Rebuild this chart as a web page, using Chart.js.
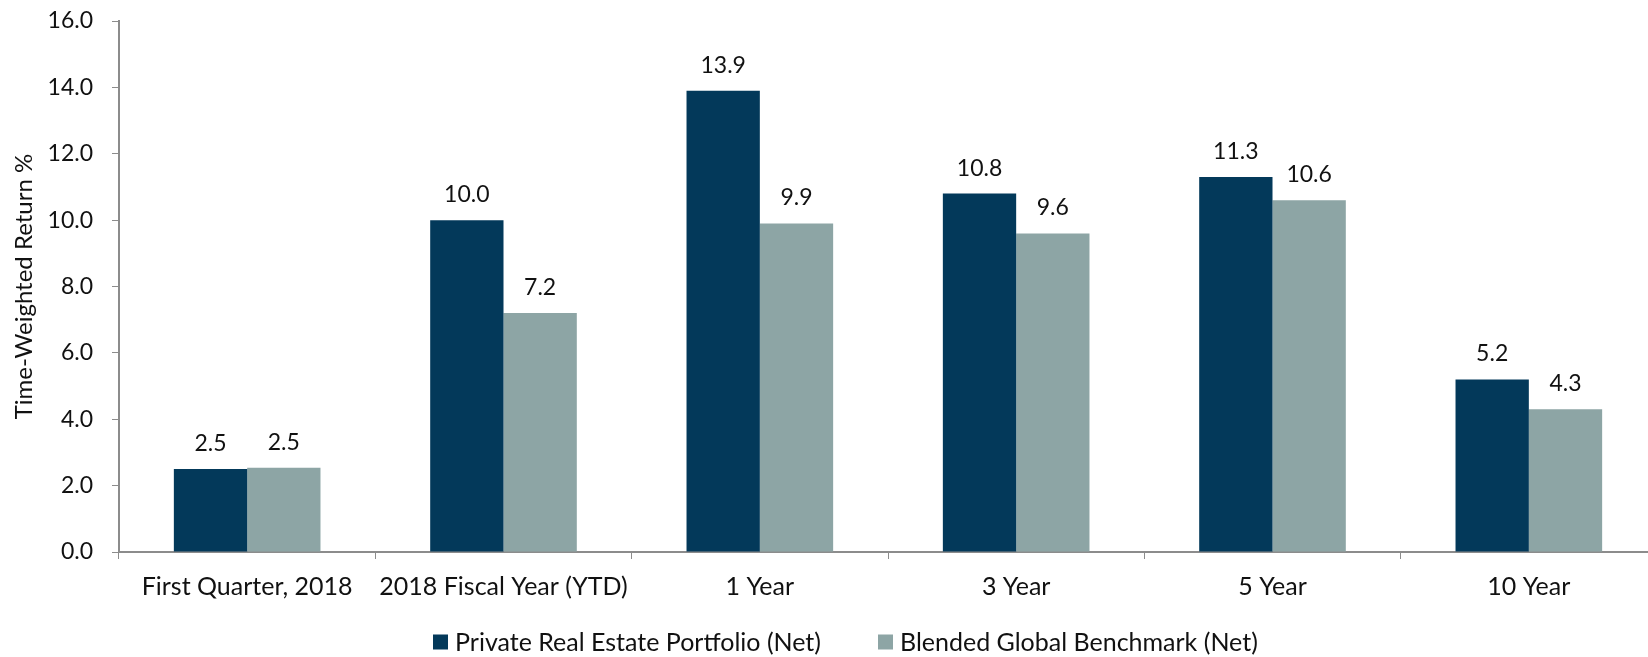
<!DOCTYPE html>
<html lang="en">
<head>
    <meta charset="UTF-8">
    <title>Time-Weighted Return</title>
    <script src="https://cdn.jsdelivr.net/npm/chart.js"></script>
    <style>
        html, body { margin: 0; padding: 0; background: #fff; overflow: hidden; }
        #wrap { width: 1660px; height: 657px; }
    </style>
</head>
<body>
    <div id="wrap"><canvas id="myChart"></canvas></div>

    <script>
        // chart data
        var categories = ['First Quarter, 2018', '2018 Fiscal Year (YTD)', '1 Year', '3 Year', '5 Year', '10 Year'];
        var portfolioNet = [2.5, 10.0, 13.9, 10.8, 11.3, 5.2];
        var benchmarkNet = [2.54, 7.2, 9.9, 9.6, 10.6, 4.3];
        var seriesNames = ['Private Real Estate Portfolio (Net)', 'Blended Global Benchmark (Net)'];
        var seriesColors = ['#03395a', '#8da5a5'];
        var yTicks = [0, 2, 4, 6, 8, 10, 12, 14, 16];
        var yTitle = 'Time-Weighted Return %';

        var fontFamily = 'Lato, "Open Sans", sans-serif';
        var axisGray = '#8c8c8c';
        var textColor = '#111';

        // writes the value above each bar
        var valueLabels = {
            id: 'valueLabels',
            afterDatasetsDraw: function(chart) {
                var ctx = chart.ctx;
                ctx.save();
                ctx.font = '23px ' + fontFamily;
                ctx.fillStyle = textColor;
                ctx.textAlign = 'center';
                ctx.textBaseline = 'alphabetic';
                chart.data.datasets.forEach(function(ds, i) {
                    chart.getDatasetMeta(i).data.forEach(function(bar, j) {
                        ctx.fillText(ds.data[j].toFixed(1), bar.x, bar.y - 18);
                    });
                });
                ctx.restore();
            }
        };

        // rotated y axis title, centred on the plot
        var yAxisTitle = {
            id: 'yAxisTitle',
            afterDraw: function(chart) {
                var ctx = chart.ctx;
                var area = chart.chartArea;
                ctx.save();
                ctx.translate(24, (area.top + area.bottom) / 2);
                ctx.rotate(-Math.PI / 2);
                ctx.font = '24px ' + fontFamily;
                ctx.fillStyle = textColor;
                ctx.textAlign = 'center';
                ctx.textBaseline = 'middle';
                ctx.fillText(yTitle, 0, 0);
                ctx.restore();
            }
        };

        // legend under the axis labels (built-in one can't do the wide item gap)
        var legendBoxX = [433, 878];
        var bottomLegend = {
            id: 'bottomLegend',
            afterDraw: function(chart) {
                var ctx = chart.ctx;
                var box = 15, boxGap = 7, y = 642;
                ctx.save();
                ctx.font = '25px ' + fontFamily;
                ctx.textBaseline = 'middle';
                ctx.textAlign = 'left';
                chart.data.datasets.forEach(function(ds, i) {
                    var x = legendBoxX[i];
                    ctx.fillStyle = ds.backgroundColor;
                    ctx.fillRect(x, y - box / 2, box, box);
                    ctx.fillStyle = textColor;
                    ctx.fillText(ds.label, x + box + boxGap, y + 1);
                });
                ctx.restore();
            }
        };

        var ctx = document.getElementById('myChart').getContext('2d');
        var myChart = new Chart(ctx, {
            type: 'bar',
            data: {
                labels: categories,
                datasets: [{
                    label: seriesNames[0],
                    data: portfolioNet,
                    backgroundColor: seriesColors[0],
                    categoryPercentage: 0.572,
                    barPercentage: 1.0
                }, {
                    label: seriesNames[1],
                    data: benchmarkNet,
                    backgroundColor: seriesColors[1],
                    categoryPercentage: 0.572,
                    barPercentage: 1.0
                }]
            },
            options: {
                responsive: true,
                maintainAspectRatio: false,
                animation: false,
                layout: { padding: { top: 0, right: 3, left: 0, bottom: 55 } },
                plugins: {
                    tooltip: { enabled: false },
                    legend: { display: false }
                },
                scales: {
                    x: {
                        afterFit: function(axis) { axis.height = 50; },
                        grid: {
                            offset: true,
                            drawOnChartArea: false,
                            drawTicks: true,
                            tickLength: 7,
                            color: axisGray
                        },
                        border: { color: axisGray, width: 2 },
                        ticks: {
                            font: { family: fontFamily, size: 25 },
                            color: textColor,
                            padding: 13,
                            maxRotation: 0
                        }
                    },
                    y: {
                        min: 0,
                        max: 16,
                        afterFit: function(axis) { axis.width = 119; },
                        afterBuildTicks: function(axis) {
                            axis.ticks = yTicks.map(function(v) { return { value: v }; });
                        },
                        grid: {
                            drawOnChartArea: false,
                            drawTicks: true,
                            tickLength: 7,
                            color: axisGray
                        },
                        border: { color: axisGray, width: 2 },
                        ticks: {
                            font: { family: fontFamily, size: 23, lineHeight: 0.18 },
                            color: textColor,
                            padding: 19,
                            callback: function(v) { return Number(v).toFixed(1); }
                        }
                    }
                }
            },
            plugins: [valueLabels, yAxisTitle, bottomLegend]
        });
    </script>
</body>
</html>
